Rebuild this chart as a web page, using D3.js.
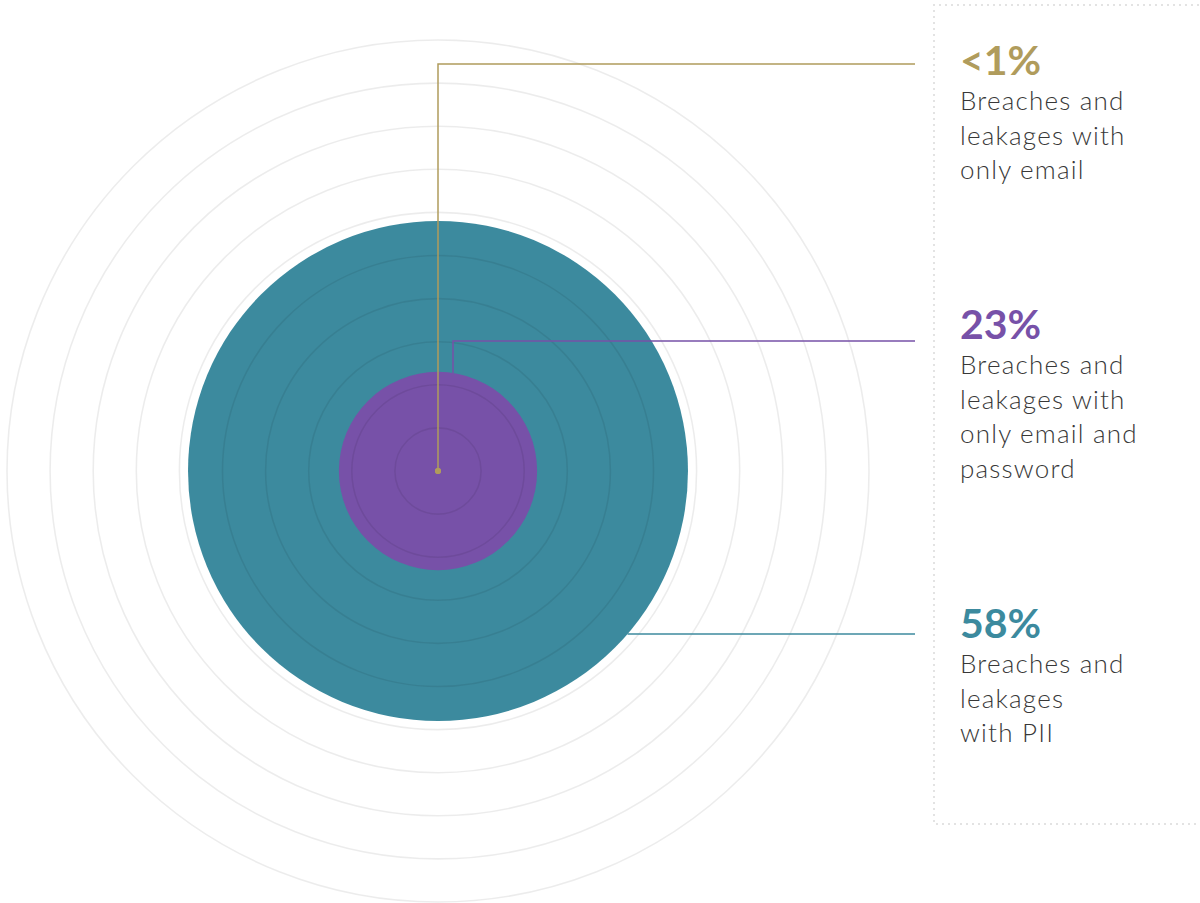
<!DOCTYPE html>
<html>
<head>
<meta charset="utf-8">
<script src="https://cdn.jsdelivr.net/npm/d3@7"></script>
<style>
  body { margin: 0; background: #fff; }
  svg { display: block; }
  .big { font-family: Lato, sans-serif; font-weight: 700; font-size: 41px; }
  .sub { font-family: Lato, sans-serif; font-weight: 300; font-size: 26px; letter-spacing: 1.2px; fill: #383838; }
</style>
</head>
<body>
<div id="chart"></div>
<script>
const width = 1200,
  height = 903

// data
const labels = ["<1%", "23%", "58%"]
const values = [0.7, 23, 58]
const colors = ["#b09c5c", "#7751a8", "#3c8a9e"]
const descriptions = [
  ["Breaches and", "leakages with", "only email"],
  ["Breaches and", "leakages with", "only email and", "password"],
  ["Breaches and", "leakages", "with PII"]
]
const rings = [10, 20, 30, 40, 50, 60, 70, 80, 90, 100]

// layout
const cx = 438, cy = 471
const labelX = 960
const lineEnd = 915
const labelY = [75, 339, 638]   // baselines of the big numbers
const leaderY = [64, 341, 634]
const purpleOffset = 15
const lineH = 34.5

const r = d3.scaleLinear().domain([0, 100]).range([0, 431])

const svg = d3.select("#chart")
  .append("svg")
  .attr("width", width)
  .attr("height", height)

// dotted box on the right
svg.append("path")
  .attr("d", `M${width + 5},5 H934 V824 H${width + 5}`)
  .attr("fill", "none")
  .attr("stroke", "#e3e3e3")
  .attr("stroke-width", 2)
  .attr("stroke-dasharray", "2,4")

const g = svg.append("g").attr("transform", `translate(${cx},${cy})`)

// filled circles, biggest first
const order = d3.range(values.length).sort((a, b) => values[b] - values[a])
g.selectAll(".bubble")
  .data(order)
  .join("circle")
  .attr("class", "bubble")
  .attr("r", i => r(values[i]))
  .attr("fill", i => colors[i])

// grid rings
g.selectAll(".ring")
  .data(rings)
  .join("circle")
  .attr("class", "ring")
  .attr("r", d => r(d))
  .attr("fill", "none")
  .attr("stroke", "#000")
  .attr("stroke-opacity", 0.075)
  .attr("stroke-width", 1.6)

// leader lines
function leader(i) {
  const rad = r(values[i])
  const y = leaderY[i] - cy
  if (i === 0) {
    return `M0,0 V${y} H${lineEnd - cx}`
  } else if (i === 1) {
    const yTop = -Math.sqrt(rad * rad - purpleOffset * purpleOffset)
    return `M${purpleOffset},${yTop} V${y} H${lineEnd - cx}`
  } else {
    const xEdge = Math.sqrt(rad * rad - y * y)
    return `M${xEdge},${y} H${lineEnd - cx}`
  }
}

g.selectAll(".leader")
  .data(d3.range(values.length))
  .join("path")
  .attr("class", "leader")
  .attr("d", leader)
  .attr("fill", "none")
  .attr("stroke", i => colors[i])
  .attr("stroke-width", 1.5)

// little dot for the smallest value
g.append("circle")
  .attr("r", r(values[0]))
  .attr("fill", colors[0])

// labels
const lab = svg.selectAll(".label")
  .data(d3.range(values.length))
  .join("g")
  .attr("class", "label")
  .attr("transform", i => `translate(${labelX},${labelY[i]})`)

lab.append("text")
  .attr("class", "big")
  .attr("fill", i => colors[i])
  .text(i => labels[i])

lab.each(function (i) {
  d3.select(this).selectAll(".sub")
    .data(descriptions[i])
    .join("text")
    .attr("class", "sub")
    .attr("y", (d, j) => 35 + j * lineH)
    .text(d => d)
})
</script>
</body>
</html>
